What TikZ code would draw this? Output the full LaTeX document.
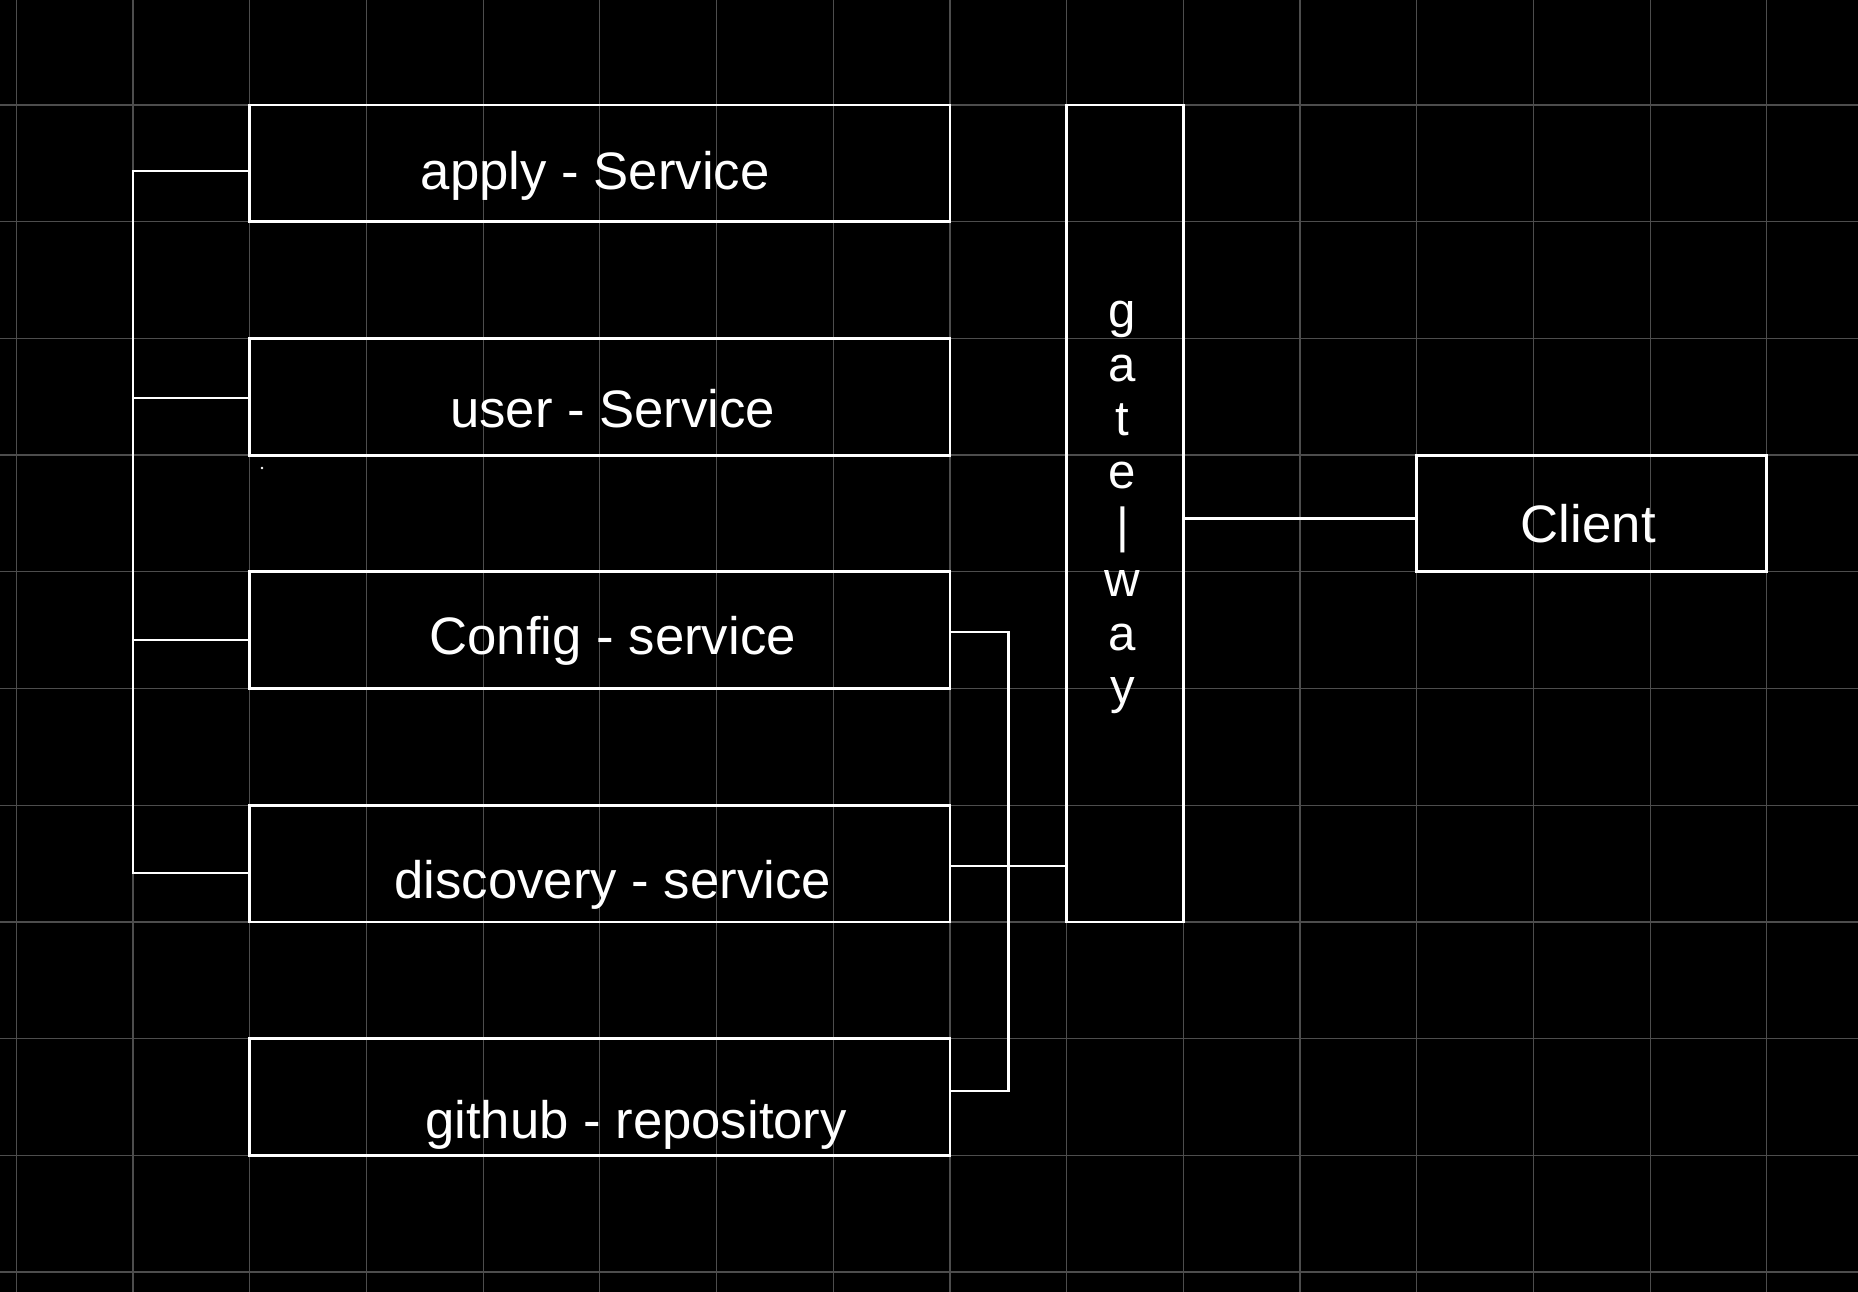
\documentclass[tikz,border=0pt]{standalone}
\usepackage{fontspec}
\setmainfont{Liberation Sans}
\usetikzlibrary{fit}
\definecolor{gridgray}{HTML}{4D4D4D}
\begin{document}
\begin{tikzpicture}[x=2.334cm,y=-2.334cm,
  box/.style={draw=white,line width=1.6pt,inner sep=0pt,fit={#1}},
  wire/.style={draw=white,line width=1.6pt},
  gridline/.style={draw=gridgray,line width=0.7pt},
  lbl/.style={text=white,font=\fontsize{30}{36}\selectfont,inner sep=0pt,anchor=base}]
\useasboundingbox[fill=black] (-0.1397,-0.8997) rectangle (15.781,10.171);
% grid
\foreach \i in {0,...,15} \draw[gridline] (\i,-0.8997) -- (\i,10.171);
\foreach \j in {0,...,10} \draw[gridline] (-0.1397,\j) -- (15.781,\j);
% boxes
\node[box={(2,0)(8,1)}] (apply) {};
\node[box={(2,2)(8,3)}] (user) {};
\node[box={(2,4)(8,5)}] (config) {};
\node[box={(2,6)(8,7)}] (discovery) {};
\node[box={(2,8)(8,9)}] (github) {};
\node[box={(9,0)(10,7)}] (gateway) {};
\node[box={(12,3)(15,4)}] (client) {};
% labels
\node[lbl] (tapply) at (4.96,0.728) {apply - Service};
\node[lbl] (tuser) at (5.11,2.76) {user - Service};
\node[lbl] (tconfig) at (5.11,4.71) {Config - service};
\node[lbl] (tdisc) at (5.11,6.8) {discovery - service};
\node[lbl] (tgit) at (5.31,8.86) {github - repository};
\node[lbl] (tclient) at (13.47,3.75) {Client};
\node[text=white,font=\fontsize{28}{30.6}\selectfont,align=center,inner sep=0pt] (tgate) at (9.48,3.45) {g\\a\\t\\e\\|\\w\\a\\y};
% left bus
\coordinate (L1) at (1,0.566);
\coordinate (L2) at (1,2.51);
\coordinate (L3) at (1,4.585);
\coordinate (L4) at (1,6.58);
\draw[wire] (apply.west |- L1) -- (L1) -- (L4) -- (discovery.west |- L4);
\draw[wire] (L2) -- (user.west |- L2);
\draw[wire] (L3) -- (config.west |- L3);
% right bus
\coordinate (R1) at (8.5,4.516);
\coordinate (R2) at (8.5,6.52);
\coordinate (R3) at (8.5,8.449);
\draw[wire] (config.east |- R1) -- (R1) -- (R3) -- (github.east |- R3);
\draw[wire] (discovery.east |- R2) -- (gateway.west |- R2);
% gateway to client
\coordinate (G1) at (11,3.54);
\draw[wire] (gateway.east |- G1) -- (client.west |- G1);
% stray dot
\fill[white] (2.105,3.11) circle (0.012);
\end{tikzpicture}
\end{document}
